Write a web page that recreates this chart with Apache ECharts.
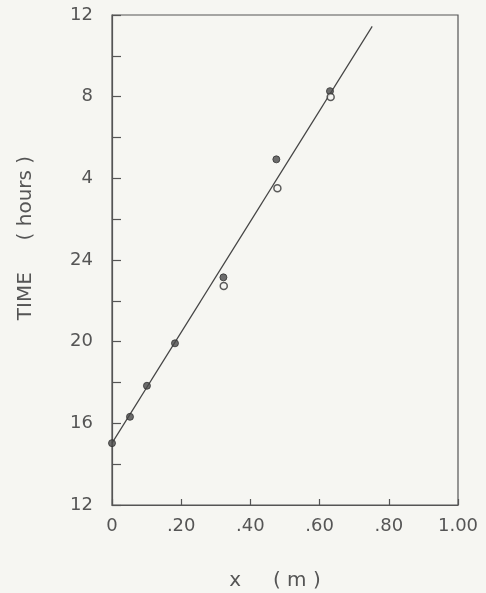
<!DOCTYPE html>
<html>
<head>
<meta charset="utf-8">
<script src="https://cdn.jsdelivr.net/npm/echarts@6/dist/echarts.min.js"></script>
<style>
html,body{margin:0;padding:0;background:#f6f6f2;}
#chart{width:486px;height:593px;}
</style>
</head>
<body>
<div id="chart"></div>
<script>
// Observed points: distance x (m), time (hours, 12..36 where 24+ wraps to next day)
const filledX = [0.000, 0.052, 0.101, 0.182, 0.322, 0.475, 0.630];
const filledY = [15.03, 16.32, 17.84, 19.92, 23.15, 28.93, 32.27];
const openX = [0.323, 0.478, 0.632];
const openY = [22.73, 27.51, 31.98];
// Fitted straight line (end points)
const fitX = [0.000, 0.752];
const fitY = [15.03, 35.44];
// Axis tick labels
const xTickLabels = {0: '0', 0.2: '.20', 0.4: '.40', 0.6: '.60', 0.8: '.80', 1: '1.00'};
const yTickLabels = {12: '12', 16: '16', 20: '20', 24: '24', 28: '4', 32: '8', 36: '12'};

const zip = (a, b) => a.map((v, i) => [v, b[i]]);
const font = '"DejaVu Sans", sans-serif';
const ink = '#555';

const chart = echarts.init(document.getElementById('chart'));
chart.setOption({
  backgroundColor: '#f6f6f2',
  animation: false,
  grid: {left: 112, right: 28, top: 15, bottom: 88, outerBoundsMode: 'none', containLabel: false,
    show: true, borderColor: ink, borderWidth: 1.2, backgroundColor: 'transparent'},
  xAxis: {
    type: 'value', min: 0, max: 1, interval: 0.2,
    name: 'x     ( m )', nameLocation: 'middle', nameGap: 66,
    nameTextStyle: {fontFamily: font, fontSize: 20, color: ink, padding: [0, 20, 0, 0]},
    axisLine: {show: true, lineStyle: {color: ink, width: 1.2}},
    axisTick: {show: true, inside: true, length: 6, lineStyle: {color: ink, width: 1.2}},
    axisLabel: {margin: 12, fontFamily: font, fontSize: 18, color: ink,
      formatter: v => { const k = Math.round(v * 10) / 10; return xTickLabels[k] !== undefined ? xTickLabels[k] : ''; }},
    splitLine: {show: false}
  },
  yAxis: {
    type: 'value', min: 12, max: 36, interval: 2,
    name: 'TIME     ( hours )', nameLocation: 'middle', nameGap: 76, nameRotate: 90,
    nameTextStyle: {fontFamily: font, fontSize: 20, color: ink, padding: [0, 0, 0, 44]},
    axisLine: {show: true, lineStyle: {color: ink, width: 1.2}},
    axisTick: {show: true, inside: true, length: 9, lineStyle: {color: ink, width: 1.2}},
    axisLabel: {margin: 19, fontFamily: font, fontSize: 18, color: ink,
      formatter: v => yTickLabels[Math.round(v)] !== undefined ? yTickLabels[Math.round(v)] : ''},
    splitLine: {show: false}
  },
  series: [
    {type: 'line', data: zip(fitX, fitY), symbol: 'none', lineStyle: {color: '#444', width: 1.2}, z: 2},
    {type: 'scatter', data: zip(filledX, filledY), symbol: 'circle', symbolSize: 7,
      itemStyle: {color: '#4a4a4a', borderColor: '#333', borderWidth: 1}, z: 3},
    {type: 'scatter', data: zip(openX, openY), symbol: 'circle', symbolSize: 7,
      itemStyle: {color: '#f6f6f2', borderColor: '#333', borderWidth: 1.5}, z: 4}
  ]
});
</script>
</body>
</html>
